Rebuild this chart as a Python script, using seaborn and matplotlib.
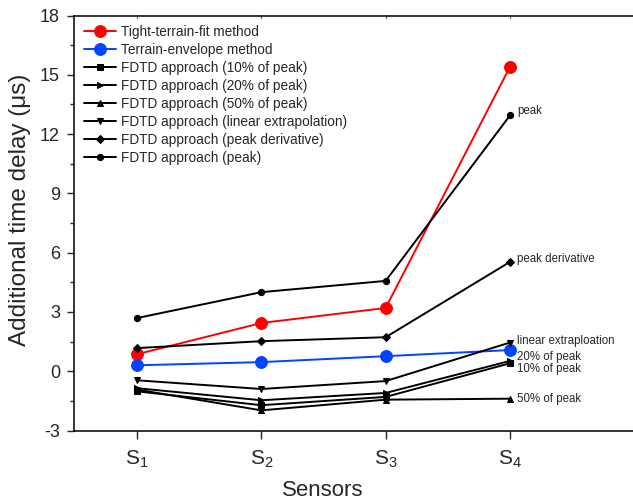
import matplotlib
matplotlib.use("Agg")
import matplotlib.pyplot as plt
import seaborn as sns
import pandas as pd

sns.set_theme(style="ticks")
plt.rcParams["font.family"] = ["Liberation Sans", "DejaVu Sans"]
plt.rcParams["mathtext.fontset"] = "custom"
plt.rcParams["mathtext.rm"] = "Liberation Sans"
plt.rcParams["mathtext.it"] = "Liberation Sans"
plt.rcParams["axes.unicode_minus"] = False

# Sensor positions and tick labels
sensors = [1, 2, 3, 4]
sensor_labels = [r"S$_\mathregular{1}$", r"S$_\mathregular{2}$",
                 r"S$_\mathregular{3}$", r"S$_\mathregular{4}$"]

# Additional time delay (us) per method
tight_fit = [0.86, 2.44, 3.20, 15.40]
envelope = [0.30, 0.46, 0.76, 1.07]
fdtd_10 = [-1.02, -1.72, -1.30, 0.40]
fdtd_20 = [-0.86, -1.47, -1.10, 0.52]
fdtd_50 = [-0.93, -1.98, -1.44, -1.39]
fdtd_linear = [-0.46, -0.90, -0.50, 1.45]
fdtd_deriv = [1.17, 1.52, 1.72, 5.53]
fdtd_peak = [2.69, 4.00, 4.57, 12.94]

series = [
    ("Tight-terrain-fit method", tight_fit, "#ff0000", "o", 8.5),
    ("Terrain-envelope method", envelope, "#0044ff", "o", 8.5),
    ("FDTD approach (10% of peak)", fdtd_10, "black", "s", 4.5),
    ("FDTD approach (20% of peak)", fdtd_20, "black", ">", 5),
    ("FDTD approach (50% of peak)", fdtd_50, "black", "^", 5),
    ("FDTD approach (linear extrapolation)", fdtd_linear, "black", "v", 5),
    ("FDTD approach (peak derivative)", fdtd_deriv, "black", "D", 4),
    ("FDTD approach (peak)", fdtd_peak, "black", "o", 4.5),
]

fig = plt.figure(figsize=(6.33, 5.03), dpi=100)
ax = fig.add_axes([74 / 633, (503 - 430.5) / 503, 1 - 74 / 633, 415 / 503])

for name, vals, color, marker, ms in series:
    df = pd.DataFrame({"sensor": sensors, "delay": vals})
    sns.lineplot(data=df, x="sensor", y="delay", ax=ax, color=color,
                 marker=marker, markersize=ms, markeredgecolor=color,
                 linewidth=1.4, label=name)

# End-of-line annotations at S4
end_labels = [
    ("peak", fdtd_peak[3], 3),
    ("peak derivative", fdtd_deriv[3], 2),
    ("linear extraploation", fdtd_linear[3], 1),
    ("20% of peak", fdtd_20[3], 3),
    ("10% of peak", fdtd_10[3], -4),
    ("50% of peak", fdtd_50[3], 0),
]
for text, yv, dy in end_labels:
    ax.annotate(text, xy=(4, yv), xytext=(5, dy), textcoords="offset points",
                ha="left", va="center", fontsize=8.3)

ax.set_xlim(0.493, 4.99)
ax.set_ylim(-3, 18)
ax.set_yticks(range(-3, 19, 3))
ax.set_yticks([x + 1.5 for x in range(-3, 18, 3)], minor=True)
ax.set_xticks(sensors)
ax.set_xticklabels(sensor_labels, fontsize=15)
ax.tick_params(axis="y", labelsize=13, direction="out", length=5, width=1, pad=5)
ax.tick_params(axis="y", which="minor", direction="out", length=3, width=1)
ax.tick_params(axis="x", direction="out", length=6, width=1, pad=7)

ax.set_xlabel("Sensors", fontsize=16)
ax.set_ylabel("Additional time delay (μs)", fontsize=17.5)
ax.xaxis.set_label_coords(0.445, -0.12)
ax.yaxis.set_label_coords(-0.077, 0.531)

for side in ["left", "bottom", "top"]:
    ax.spines[side].set_linewidth(1.1)
    ax.spines[side].set_color("black")
ax.spines["right"].set_visible(False)

top = ax.secondary_xaxis("top")
top.set_xticks(sensors)
top.set_xticklabels([])
top.tick_params(direction="in", length=2, width=0.8)
top.spines["top"].set_visible(False)

leg = ax.legend(loc="upper left", frameon=False, fontsize=9.8,
                handlelength=2.4, handletextpad=0.35, labelspacing=0.29,
                borderaxespad=0.3, bbox_to_anchor=(0.0, 1.0))

fig.savefig("out.png", dpi=100)
